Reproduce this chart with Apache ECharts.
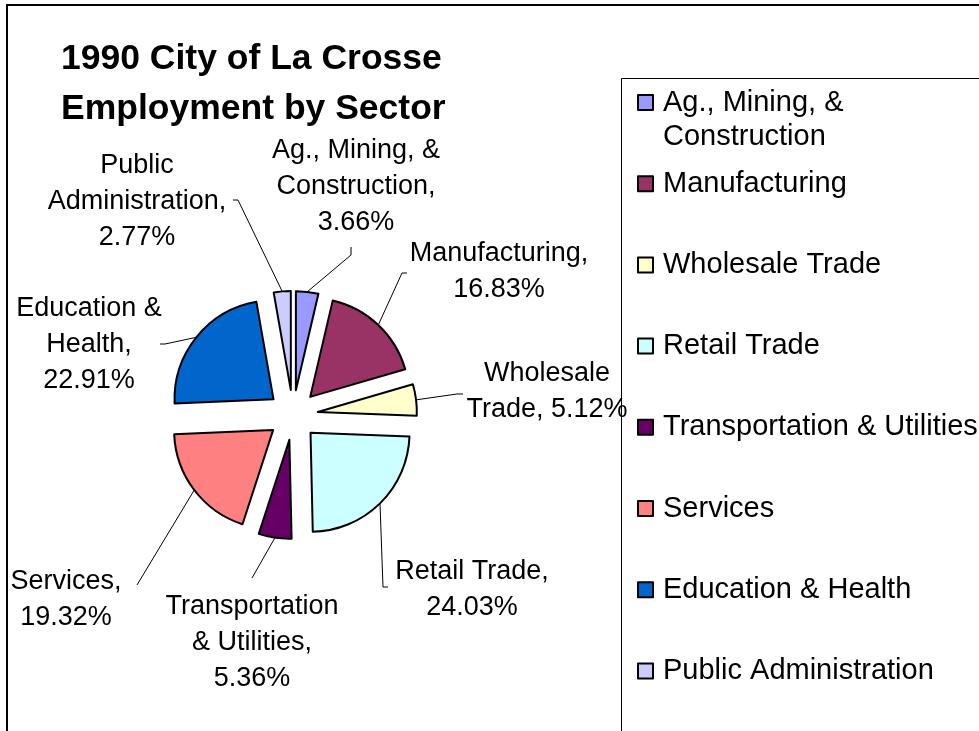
<!DOCTYPE html>
<html><head><meta charset="utf-8">
<script src="https://cdn.jsdelivr.net/npm/echarts@6/dist/echarts.min.js"></script>
<style>html,body{margin:0;padding:0;background:#fff}#c{width:979px;height:731px}</style>
</head><body><div id="c"></div>
<script>
// ---- data ----
const categories = ['Ag., Mining, & Construction', 'Manufacturing', 'Wholesale Trade', 'Retail Trade',
  'Transportation & Utilities', 'Services', 'Education & Health', 'Public Administration'];
const shares = [3.66, 16.83, 5.12, 24.03, 5.36, 19.32, 22.91, 2.77];
const labelTexts = ['Ag., Mining, &\nConstruction,\n{v}', 'Manufacturing,\n{v}', 'Wholesale\nTrade, {v}',
  'Retail Trade,\n{v}', 'Transportation\n& Utilities,\n{v}', 'Services,\n{v}', 'Education &\nHealth,\n{v}',
  'Public\nAdministration,\n{v}'];
const legendTexts = ['\u00a0\nAg., Mining, &\nConstruction', 'Manufacturing', 'Wholesale Trade', 'Retail Trade',
  'Transportation & Utilities', 'Services', 'Education & Health', 'Public Administration'];
const titleText = '1990 City of La Crosse\nEmployment by Sector';

// ---- styles / layout ----
const colors = ['#9999FF', '#993366', '#FFFFCC', '#CCFFFF', '#660066', '#FF8080', '#0066CC', '#CCCCFF'];
const FONT = 'Liberation Sans';
const cx = 293, cy = 415, R = 99, OFF = 25;
const LH = 34;      // legend line height
const ROW = 81.2;   // legend row pitch
const labelAt = [[356, 187], [499, 272], [547, 392], [472, 590], [252, 643], [66, 600], [89, 345], [137, 202]];
const lineTails = [
  [[351, 255], [351, 247]], [[402, 273], [407, 273]], [[457, 394], [463, 394]], [[383, 587], [388, 587]],
  [[252, 578], [252, 578]], [[137, 585], [137, 585]], [[165, 344], [160, 344]], [[238, 200], [233, 200]]
];
const total = shares.reduce((a, b) => a + b, 0);
function arcPoint(i) {
  let cum = 0;
  for (let k = 0; k < i; k++) cum += shares[k];
  const t = (cum + shares[i] / 2) / total * 2 * Math.PI;
  return [cx + (R + OFF) * Math.sin(t), cy - (R + OFF) * Math.cos(t)];
}

const chart = echarts.init(document.getElementById('c'), null, {renderer: 'canvas'});
chart.setOption({
  animation: false,
  backgroundColor: '#fff',
  title: {
    text: titleText, left: 61, top: 34, padding: 0,
    textStyle: {fontFamily: FONT, fontSize: 35.5, fontWeight: 'bold', color: '#000', lineHeight: 50}
  },
  graphic: [
    {type: 'rect', silent: true, shape: {x: 7, y: 5, width: 1000, height: 800},
      style: {fill: 'none', stroke: '#000', lineWidth: 2}},
    {type: 'rect', silent: true, shape: {x: 621.5, y: 78.5, width: 400, height: 700},
      style: {fill: 'none', stroke: '#000', lineWidth: 1}}
  ],
  legend: {
    orient: 'vertical', left: 637, top: 102.5 - 1.5 * LH, padding: 0, itemGap: ROW - 3 * LH,
    itemWidth: 15, itemHeight: 15, icon: 'rect', selectedMode: false,
    itemStyle: {borderColor: '#000', borderWidth: 2},
    data: categories.map((n, i) => i === 0
      ? {name: n, textStyle: {padding: [0, 0, 0, 5]}}
      : {name: n}),
    formatter: name => legendTexts[categories.indexOf(name)],
    textStyle: {color: '#000', fontFamily: FONT, fontSize: 29, lineHeight: LH, padding: [LH, 0, LH, 5]}
  },
  series: [{
    // exploded slices
    type: 'pie', center: [cx, cy], radius: R, startAngle: 90, clockwise: true,
    selectedMode: 'multiple', selectedOffset: OFF, avoidLabelOverlap: false,
    data: categories.map((n, i) => ({name: n, value: shares[i], selected: true, itemStyle: {color: colors[i]}})),
    itemStyle: {borderColor: '#000', borderWidth: 2},
    label: {show: false}, labelLine: {show: false},
    emphasis: {disabled: true},
    select: {itemStyle: {borderColor: '#000', borderWidth: 2}, label: {show: false}}
  }, {
    // data labels with leader lines (same data, transparent sectors)
    type: 'pie', center: [cx, cy], radius: R, startAngle: 90, clockwise: true,
    selectedMode: false, avoidLabelOverlap: false, silent: true,
    data: categories.map((n, i) => ({name: n, value: shares[i]})),
    itemStyle: {color: 'rgba(0,0,0,0)', borderWidth: 0},
    label: {
      show: true, position: 'outside', color: '#000', fontFamily: FONT, fontSize: 27, lineHeight: 36, align: 'center',
      formatter: p => labelTexts[p.dataIndex].replace('{v}', p.value.toFixed(2) + '%')
    },
    labelLine: {show: true, lineStyle: {color: '#000', width: 1}},
    labelLayout: function (p) {
      const i = p.dataIndex;
      return {
        x: labelAt[i][0], y: labelAt[i][1], align: 'center', verticalAlign: 'middle',
        labelLinePoints: [arcPoint(i), lineTails[i][0], lineTails[i][1]]
      };
    },
    emphasis: {disabled: true}
  }]
});
</script>
</body></html>
